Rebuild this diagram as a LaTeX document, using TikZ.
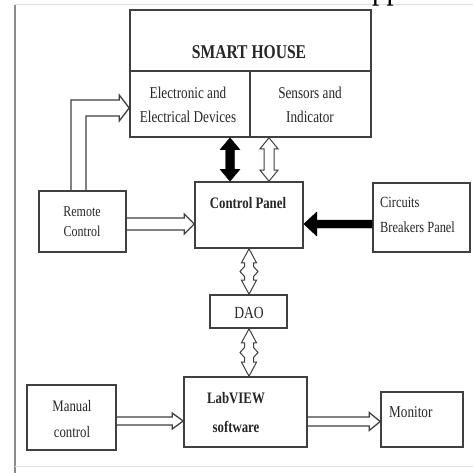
\documentclass[tikz,border=0pt]{standalone}
\usepackage{fontspec}
\setmainfont[FakeStretch=0.8]{Liberation Serif}
\usetikzlibrary{calc}
\newcommand\zigarrow[2]{%
 \coordinate (zm) at ($(#1)!0.5!(#2)$);
 \draw[conn, line width=1pt] (#1) -- ($(#1)+(7.5,14)$) -- ($(#1)+(4.5,14)$) -- ($(zm)+(4.5,-5)$) -- ($(zm)+(9,0)$) -- ($(zm)+(4.5,5)$) -- ($(#2)+(4.5,-14)$) -- ($(#2)+(7.5,-14)$) -- (#2) -- ($(#2)+(-7.5,-14)$) -- ($(#2)+(-4.5,-14)$) -- ($(zm)+(-4.5,5)$) -- ($(zm)+(-9,0)$) -- ($(zm)+(-4.5,-5)$) -- ($(#1)+(-4.5,14)$) -- ($(#1)+(-7.5,14)$) -- cycle;}
\begin{document}
\begin{tikzpicture}[x=1pt,y=-1pt,
 box/.style={draw=black!75, line width=1.6pt, inner sep=0pt, rectangle},
 txt/.style={inner sep=0pt, align=center, font=\fontsize{16.5}{24}\selectfont, text=black!85},
 conn/.style={draw=black!75, line width=1.3pt, line join=miter},
 solidarr/.style={fill=black, draw=black, line width=0.4pt, line join=miter}]
\useasboundingbox (0,0) rectangle (473,473);
\fill[white] (0,0) rectangle (473,473);
% frame
\draw[black!45, line width=2pt] (15,5) -- (15,473);
\draw[black!12, line width=1pt] (15,5) -- (473,5);
\draw[black!12, line width=1pt] (15,466) -- (473,466);
\begin{scope}
\clip (0,0) rectangle (473,473);
\node[anchor=base west, inner sep=0pt, font=\fontsize{36}{36}\selectfont] (pp) at (372,-1) {pp};
\end{scope}
% boxes
\node[box, minimum width=241, minimum height=127] (sh) at (250.5,73.5) {};
\node[box, minimum width=241, minimum height=61] (sht) at (250.5,40.5) {};
\node[box, minimum width=120, minimum height=66] (ed) at (190,104) {};
\node[box, minimum width=121, minimum height=66] (si) at (310.5,104) {};
\node[box, minimum width=87, minimum height=61] (rc) at (82.5,221.5) {};
\node[box, minimum width=108, minimum height=66] (cp) at (249,215) {};
\node[box, minimum width=97, minimum height=69] (cb) at (421.5,217.5) {};
\node[box, minimum width=77, minimum height=33] (dq) at (248.5,311.5) {};
\node[box, minimum width=123, minimum height=70] (lv) at (245.5,412) {};
\node[box, minimum width=89, minimum height=65] (mc) at (71.5,417.5) {};
\node[box, minimum width=82, minimum height=55] (mo) at (422,419.5) {};
% texts
\node[txt, font=\fontsize{19.5}{22}\selectfont\bfseries] (tsh) at (249,52) {SMART HOUSE};
\node[txt] (ted) at (188,105) {Electronic and\\Electrical Devices};
\node[txt] (tsi) at (310,105) {Sensors and\\Indicator};
\node[txt, font=\fontsize{15}{20}\selectfont] (trc) at (82,222) {Remote\\Control};
\node[txt, font=\fontsize{16}{20}\selectfont\bfseries] (tcp) at (248,203) {Control Panel};
\node[txt, align=left, anchor=west, font=\fontsize{15.5}{25}\selectfont] (tcb) at (380,214.5) {Circuits\\Breakers Panel};
\node[txt, font=\fontsize{17}{20}\selectfont] (tdq) at (249,313) {DAO};
\node[txt, font=\fontsize{16}{29}\selectfont\bfseries] (tlv) at (236,412.5) {LabVIEW\\software};
\node[txt, font=\fontsize{16}{26}\selectfont] (tmc) at (72,419) {Manual\\control};
\node[txt, anchor=west] (tmo) at (389,412) {Monitor};
% Remote control -> Electronic devices (double line)
\coordinate (rt) at (sh.west |- 0,108);
\draw[conn] (71,0 |- rc.north) -- (71,100) -- ($(rt)+(-10,-8)$) -- ($(rt)+(-10,-13)$) -- (rt) -- ($(rt)+(-10,13)$) -- ($(rt)+(-10,8)$) -- (86,116) -- (86,0 |- rc.north);
% Remote -> Control Panel
\coordinate (t1) at (cp.west |- 0,224);
\draw[conn] (rc.east |- 0,218) -- ($(t1)+(-10,-6)$) -- ($(t1)+(-10,-10)$) -- (t1) -- ($(t1)+(-10,10)$) -- ($(t1)+(-10,6)$) -- (rc.east |- 0,230);
% Circuits -> Control Panel (black)
\coordinate (t2) at (cp.east |- 0,224);
\fill[solidarr] (t2) -- ($(t2)+(13,-12)$) -- ($(t2)+(13,-4)$) -- (cb.west |- 0,220) -- (cb.west |- 0,228) -- ($(t2)+(13,4)$) -- ($(t2)+(13,12)$) -- cycle;
% black double arrow
\coordinate (u1) at (230,0 |- sh.south);
\coordinate (d1) at (230,0 |- cp.north);
\fill[solidarr] (u1) -- ($(u1)+(10,12)$) -- ($(u1)+(4.5,12)$) -- ($(d1)+(4.5,-12)$) -- ($(d1)+(10,-12)$) -- (d1) -- ($(d1)+(-10,-12)$) -- ($(d1)+(-4.5,-12)$) -- ($(u1)+(-4.5,12)$) -- ($(u1)+(-10,12)$) -- cycle;
% hollow double arrow
\coordinate (u2) at (269,0 |- sh.south);
\coordinate (d2) at (269,0 |- cp.north);
\draw[conn, line width=1pt] (u2) -- ($(u2)+(9,11)$) -- ($(u2)+(5,11)$) -- ($(d2)+(5,-11)$) -- ($(d2)+(9,-11)$) -- (d2) -- ($(d2)+(-9,-11)$) -- ($(d2)+(-5,-11)$) -- ($(u2)+(-5,11)$) -- ($(u2)+(-9,11)$) -- cycle;
% zigzag double arrows
\coordinate (za) at (249,0 |- cp.south);
\coordinate (zb) at (249,0 |- dq.north);
\zigarrow{za}{zb}
\coordinate (zc) at (249,0 |- dq.south);
\coordinate (zd) at (249,0 |- lv.north);
\zigarrow{zc}{zd}
% Manual -> LabVIEW
\coordinate (t3) at (lv.west |- 0,421);
\draw[conn] (mc.east |- 0,417) -- ($(t3)+(-11,-4)$) -- ($(t3)+(-11,-8)$) -- (t3) -- ($(t3)+(-11,8)$) -- ($(t3)+(-11,4)$) -- (mc.east |- 0,425);
% LabVIEW -> Monitor
\coordinate (t4) at (mo.west |- 0,421.5);
\draw[conn] (lv.east |- 0,417) -- ($(t4)+(-11,-4.5)$) -- ($(t4)+(-11,-9)$) -- (t4) -- ($(t4)+(-11,9)$) -- ($(t4)+(-11,4.5)$) -- (lv.east |- 0,426);
\end{tikzpicture}
\end{document}
